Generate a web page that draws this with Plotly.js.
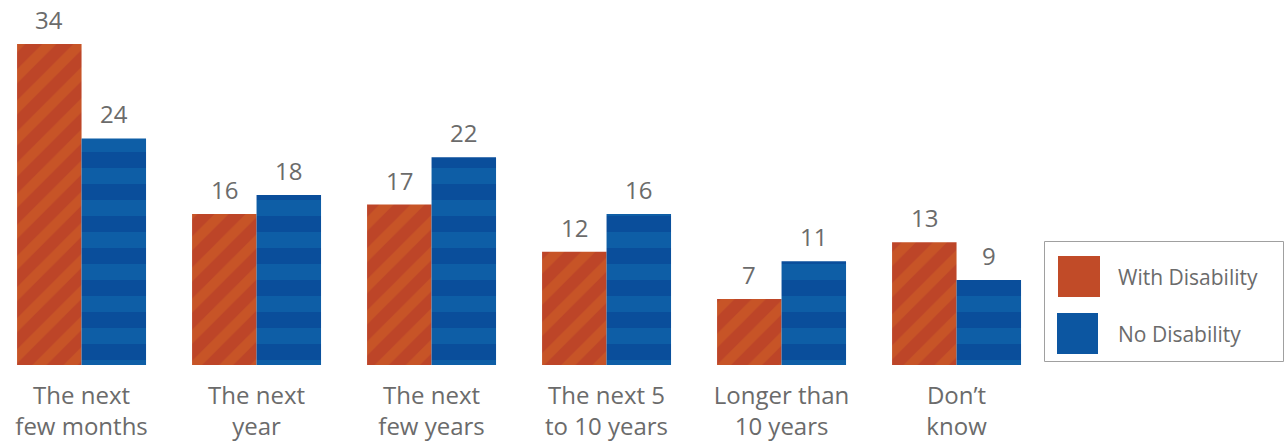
<!DOCTYPE html>
<html><head><meta charset="utf-8">
<script src="https://cdn.plot.ly/plotly-3.0.1.min.js"></script>
<style>html,body{margin:0;padding:0;background:#fff}#chart{width:1284px;height:443px}</style>
</head><body><div id="chart"></div>
<script>
const categories = ["The next<br>few months","The next<br>year","The next<br>few years","The next 5<br>to 10 years","Longer than<br>10 years","Don’t<br>know"];
const withDisability = [34,16,17,12,7,13];
const noDisability = [24,18,22,16,11,9];
const seriesNames = ["With Disability","No Disability"];

const ORANGE_BG = "#BD4528", ORANGE_FG = "#C75427";
const BLUE_BG = "#0A4E9B", BLUE_FG = "#0E5EA6";
const TXT = "#6B6B6B";
const FONT = "Open Sans, sans-serif";

const W = 1284, H = 443, L = 0, R = 244, T = 0, B = 78;
const plotW = W - L - R, plotH = H - T - B;
const px = x => (x - L) / plotW;
const py = y => (H - B - y) / plotH;

const traces = [
  {type:"bar", name:seriesNames[0], x:categories, y:withDisability,
   marker:{color:ORANGE_BG, line:{width:0}, pattern:{shape:"/", bgcolor:ORANGE_BG, fgcolor:ORANGE_FG, fgopacity:1, size:22, solidity:0.45}},
   hoverinfo:"none", showlegend:false},
  {type:"bar", name:seriesNames[1], x:categories, y:noDisability,
   marker:{color:BLUE_BG, line:{width:0}, pattern:{shape:"-", bgcolor:BLUE_BG, fgcolor:BLUE_FG, fgopacity:1, size:32, solidity:0.5}},
   hoverinfo:"none", showlegend:false}
];

const annotations = [];
const groupFrac = 0.737; // fraction of category width covered by the pair
[withDisability, noDisability].forEach((vals, s) => {
  vals.forEach((v, i) => {
    const off = (s === 0 ? -1 : 1) * groupFrac / 4;
    annotations.push({x: i + off, y: v, xref:"x", yref:"y", text: String(v), showarrow:false,
      yanchor:"bottom", yshift:6, font:{family:FONT, size:24, color:TXT}});
  });
});

// custom legend
const shapes = [
  {type:"rect", xref:"paper", yref:"paper", x0:px(1044.5), x1:px(1283.5), y0:py(241.5), y1:py(361.5),
   line:{color:"#A0A0A0", width:1}, fillcolor:"rgba(0,0,0,0)"},
  {type:"rect", xref:"paper", yref:"paper", x0:px(1058), x1:px(1100), y0:py(256), y1:py(297),
   line:{width:0}, fillcolor:"#C14B28"},
  {type:"rect", xref:"paper", yref:"paper", x0:px(1057), x1:px(1098), y0:py(313), y1:py(354),
   line:{width:0}, fillcolor:"#0C56A1"}
];
annotations.push({xref:"paper", yref:"paper", x:px(1116), y:py(277), xanchor:"left", yanchor:"middle",
  text:seriesNames[0], showarrow:false, font:{family:FONT, size:21, color:TXT}});
annotations.push({xref:"paper", yref:"paper", x:px(1116), y:py(334), xanchor:"left", yanchor:"middle",
  text:seriesNames[1], showarrow:false, font:{family:FONT, size:21, color:TXT}});

const layout = {
  width:W, height:H, margin:{l:L, r:R, t:T, b:B, pad:0},
  paper_bgcolor:"#fff", plot_bgcolor:"#fff",
  barmode:"group", bargap:0.263, bargroupgap:0,
  showlegend:false,
  xaxis:{type:"category", range:[-0.466, -0.466 + plotW/175], showgrid:false, zeroline:false, showline:false,
    ticks:"", ticklabelstandoff:14, tickfont:{family:FONT, size:24, color:TXT}, fixedrange:true},
  yaxis:{range:[0, plotH/9.44], visible:false, fixedrange:true},
  shapes, annotations
};
Plotly.newPlot("chart", traces, layout, {displayModeBar:false, staticPlot:true});
</script></body></html>
